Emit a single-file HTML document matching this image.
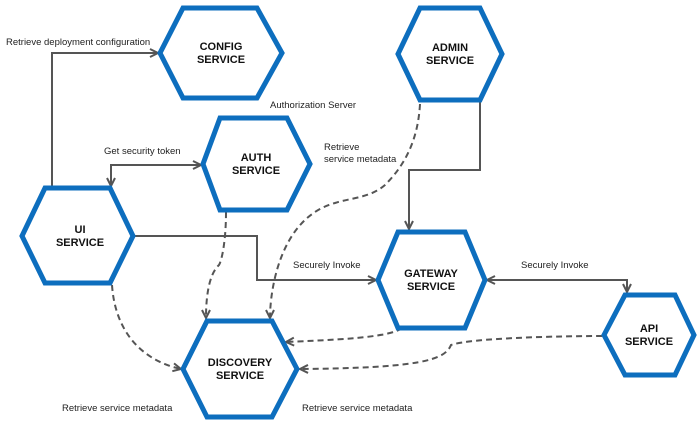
<!DOCTYPE html>
<html><head><meta charset="utf-8"><style>
body{margin:0;background:#fff}
svg{display:block;font-family:"Liberation Sans",sans-serif}
.h{fill:#fff;stroke:#0d6ebe;stroke-width:5;stroke-linejoin:miter}
.t{font-size:11px;font-weight:bold;fill:#111;text-anchor:middle}
.l{font-size:9.5px;fill:#222}
.s{fill:none;stroke:#555;stroke-width:2}
.d{fill:none;stroke:#555;stroke-width:2;stroke-dasharray:6,4}
</style></head><body>
<svg width="700" height="425" viewBox="0 0 700 425">
<defs><marker id="a" viewBox="0 0 10 10" refX="9" refY="5" markerWidth="5" markerHeight="5" orient="auto-start-reverse"><path d="M1,1 L9,5 L1,9" fill="none" stroke="#555" stroke-width="2"/></marker></defs>
<path class="s" d="M52,188 V53 H158" marker-end="url(#a)"/>
<path class="s" d="M111,186 V165 H201" marker-start="url(#a)" marker-end="url(#a)"/>
<path class="s" d="M133,236 H257 V280 H376" marker-end="url(#a)"/>
<path class="s" d="M480,100 V170 H409 V229" marker-end="url(#a)"/>
<path class="s" d="M487,280 H627 V292" marker-start="url(#a)" marker-end="url(#a)"/>
<path class="d" d="M112,285 C115,330 140,360 181,369" marker-end="url(#a)"/>
<path class="d" d="M226,212 C226,240 222,260 219,265 C208,275 206,300 206,318" marker-end="url(#a)"/>
<path class="d" d="M420,104 C418,140 405,165 385,185 C370,198 350,198 335,203 C280,218 270,290 270,318" marker-end="url(#a)"/>
<path class="d" d="M402,328 C390,338 330,340 286,342" marker-end="url(#a)"/>
<path class="d" d="M602,336 C560,336 470,338 451,345 C445,360 420,368 300,369" marker-end="url(#a)"/>
<polygon class="h" points="160,53 183,8 257,8 282,53 257,98 183,98"/>
<text class="t" x="221" y="50">CONFIG</text><text class="t" x="221" y="63">SERVICE</text>
<polygon class="h" points="203,164 220,118 287,118 310,164 287,210 220,210"/>
<text class="t" x="256" y="161">AUTH</text><text class="t" x="256" y="174">SERVICE</text>
<polygon class="h" points="22,236 45,188 110,188 133,236 110,283 45,283"/>
<text class="t" x="80" y="233">UI</text><text class="t" x="80" y="246">SERVICE</text>
<polygon class="h" points="398,54 420,8 480,8 502,54 480,100 420,100"/>
<text class="t" x="450" y="51">ADMIN</text><text class="t" x="450" y="64">SERVICE</text>
<polygon class="h" points="378,280 398,232 465,232 485,280 465,328 398,328"/>
<text class="t" x="431" y="277">GATEWAY</text><text class="t" x="431" y="290">SERVICE</text>
<polygon class="h" points="604,335 625,295 675,295 694,335 675,375 625,375"/>
<text class="t" x="649" y="332">API</text><text class="t" x="649" y="345">SERVICE</text>
<polygon class="h" points="183,369 207,321 272,321 297,369 272,417 207,417"/>
<text class="t" x="240" y="366">DISCOVERY</text><text class="t" x="240" y="379">SERVICE</text>
<text class="l" x="6" y="45">Retrieve deployment configuration</text>
<text class="l" x="270" y="108">Authorization Server</text>
<text class="l" x="104" y="154">Get security token</text>
<text class="l" x="324" y="150">Retrieve</text>
<text class="l" x="324" y="162">service metadata</text>
<text class="l" x="293" y="268">Securely Invoke</text>
<text class="l" x="521" y="268">Securely Invoke</text>
<text class="l" x="62" y="411">Retrieve service metadata</text>
<text class="l" x="302" y="411">Retrieve service metadata</text>
</svg>
</body></html>
